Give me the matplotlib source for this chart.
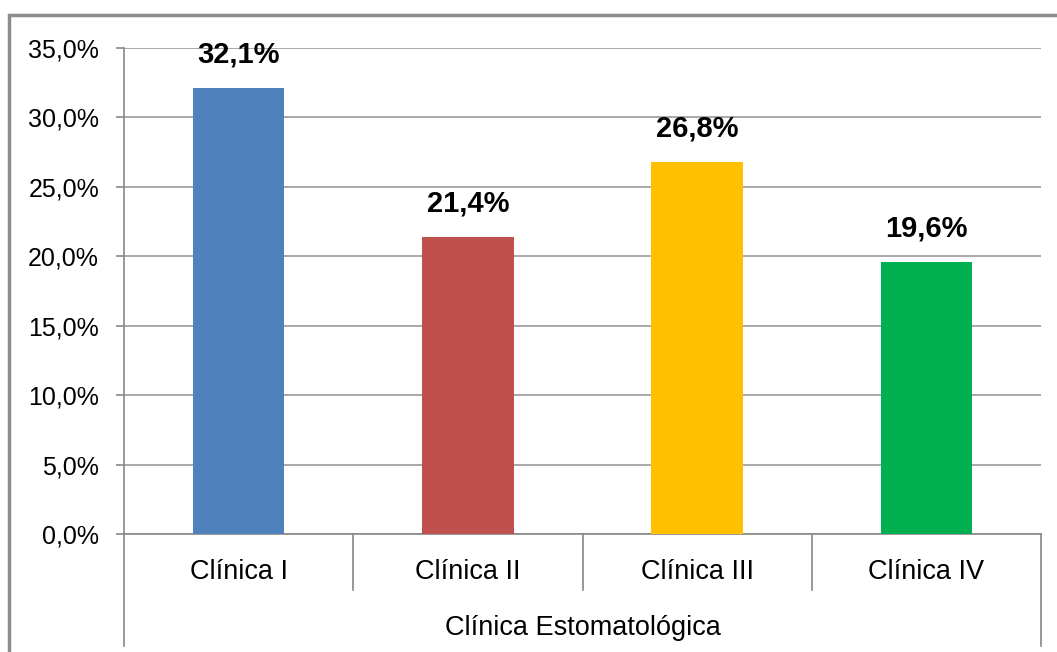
import numpy as np
import matplotlib
matplotlib.use("Agg")
import matplotlib.pyplot as plt
from matplotlib.patches import Rectangle
from matplotlib.transforms import blended_transform_factory

plt.rcParams['font.family'] = ['Liberation Sans', 'DejaVu Sans']

# data
categories = ["Clínica I", "Clínica II", "Clínica III", "Clínica IV"]
values = [32.1, 21.4, 26.8, 19.6]
colors = ["#4F81BD", "#C0504D", "#FFC000", "#00B050"]
axis_title = "Clínica Estomatológica"
yticks = [0, 5, 10, 15, 20, 25, 30, 35]

W, H = 1057, 652
fig = plt.figure(figsize=(W / 100, H / 100), dpi=100)
ax = fig.add_axes([124 / W, 1 - 534 / H, (1041 - 124) / W, (534 - 48) / H])

x = np.arange(len(categories))
ax.bar(x, values, width=0.4, color=colors, zorder=3)

for xi, v in zip(x, values):
    ax.annotate(f"{v:.1f}%".replace(".", ","), (xi, v), xytext=(0, 14),
                textcoords="offset points", ha="center", va="bottom",
                fontsize=21, fontweight="bold", color="black")

ax.set_xlim(-0.5, len(categories) - 0.5)
ax.set_ylim(0, 35)
ax.set_yticks(yticks)
ax.set_yticklabels([f"{t:.1f}%".replace(".", ",") for t in yticks], fontsize=18)
ax.tick_params(axis="y", length=6, color="#888888", width=1.2, pad=12)
ax.set_xticks([])
ax.grid(axis="y", color="#9a9a9a", linewidth=1.2, zorder=0)

for s in ["top", "right"]:
    ax.spines[s].set_visible(False)
for s in ["left", "bottom"]:
    ax.spines[s].set_color("#888888")
    ax.spines[s].set_linewidth(1.2)

# category separators and labels below axis
tr = blended_transform_factory(ax.transData, ax.transAxes)
axh = 534 - 48
for b in np.arange(-0.5, len(categories), 1.0):
    outer = b in (-0.5, len(categories) - 0.5)
    low = -(646 - 534) / axh if outer else -(590 - 534) / axh
    ax.plot([b, b], [0, low], transform=tr, color="#888888", lw=1.2, clip_on=False)
for xi, c in zip(x, categories):
    ax.text(xi, -(572 - 534) / axh, c, transform=tr, ha="center", va="center",
            fontsize=19.5)
ax.text(np.mean(x), -(628 - 534) / axh, axis_title, transform=tr, ha="center",
        va="center", fontsize=19.5)

# outer frame
fig.patches.append(Rectangle((9 / W, -0.1), 1.2, 1 - 15 / H + 0.1,
                             transform=fig.transFigure, fill=False,
                             edgecolor="#8c8c8c", lw=2.5))

fig.savefig("out.png", dpi=100)
